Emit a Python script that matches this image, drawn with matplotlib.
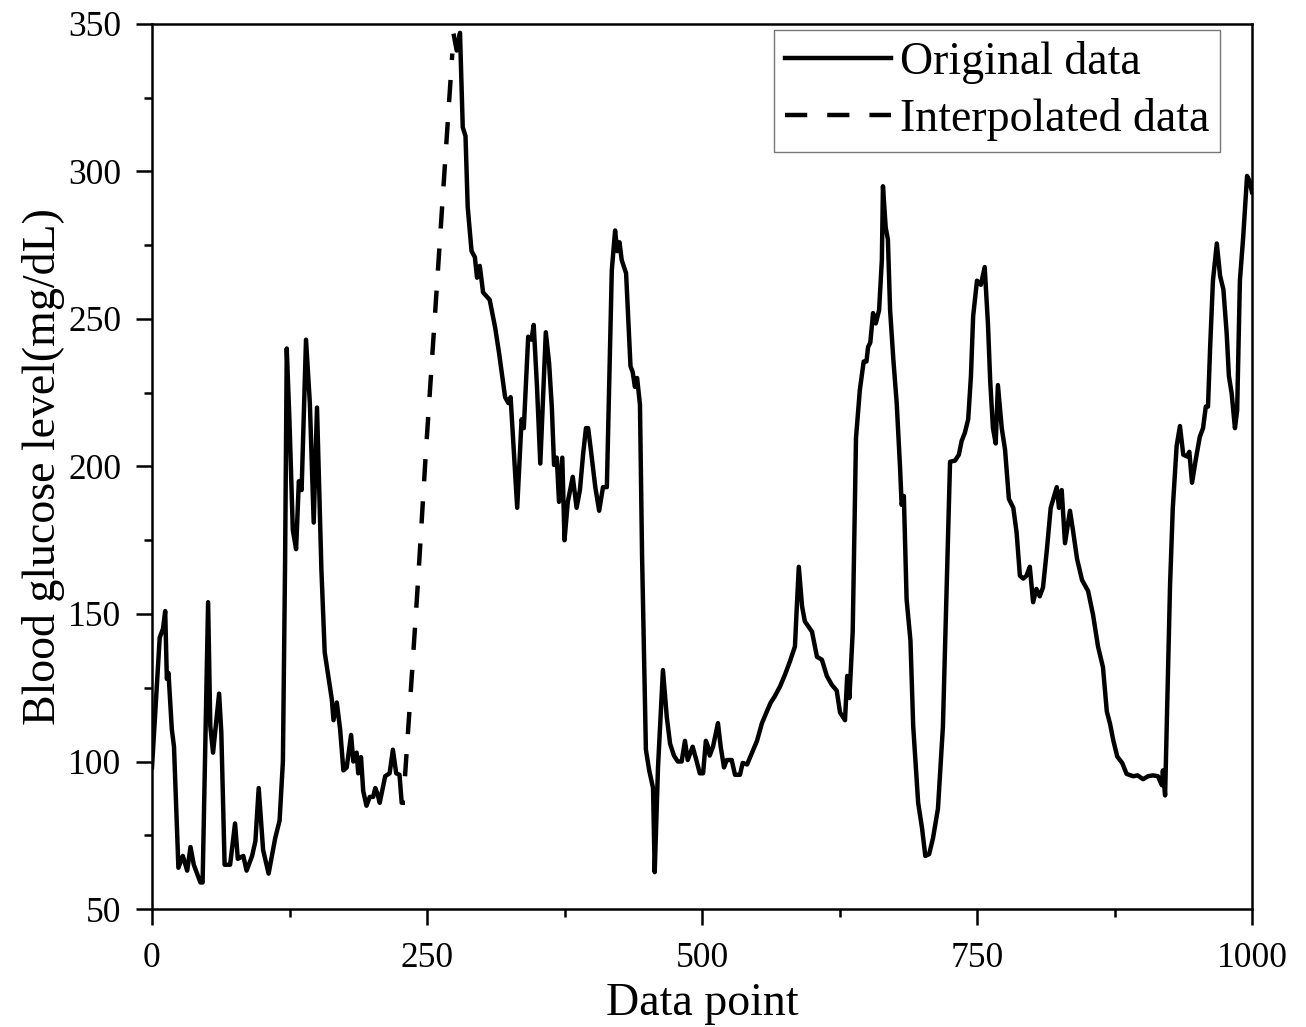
import matplotlib
matplotlib.use('Agg')
import matplotlib.pyplot as plt
from matplotlib.ticker import MultipleLocator

# original data, part before the gap
seg1_x = [0, 7, 10, 12, 13.5, 15, 18, 20, 24, 28, 32, 35, 38, 44, 46, 51, 53, 55.5,
          61, 63, 66, 71, 75.5, 78, 83, 86, 91, 94, 97, 101, 106, 112, 116, 119, 121,
          122.5, 125, 128, 131, 133.5, 136, 140, 143.5, 147, 150, 154, 157, 163.5, 165,
          168, 171, 174, 177, 181, 183, 186, 187.5, 190, 192, 195, 198, 201, 203, 205,
          207, 212, 216, 219, 222, 225, 227, 228]
seg1_y = [98, 142, 145, 151, 128, 130, 111, 105, 64, 68, 63, 71, 65, 59, 59, 154, 112, 103,
          123, 110, 65, 65, 79, 67, 68, 63, 68, 73, 91, 70, 62, 74, 80, 100, 168,
          240, 215, 178.5, 172, 195, 192, 243, 221.5, 181, 220, 165, 137, 121, 114,
          120, 111, 97, 98, 109, 100, 103, 96, 101.5, 90, 85, 88, 88, 91, 89,
          86, 95, 96, 104, 96, 95.5, 86, 86]

# interpolated gap
interp_x = [230, 236, 242, 249, 257, 265, 273]
interp_y = [95, 128, 162, 205, 250, 295, 340]

# original data, part after the gap
seg2_x = [274.5, 277, 280, 282.5, 285, 287, 290.5, 293.5, 295.5, 298, 301, 307, 312, 315.5,
          321, 324, 326, 332, 336, 338, 342, 345, 347, 350, 353, 358, 361, 363.5, 365.5,
          368, 370, 373, 375, 378, 382.5, 386, 389, 392, 394.5, 396.5, 399, 403, 406.5,
          410, 413.5, 418, 421, 423, 425, 427, 431, 435, 437, 439, 441, 443.6, 445.5,
          449, 452, 455.5, 457, 460, 464.5, 468, 471, 474.5, 478, 481.5, 484.5, 487,
          491.5, 494.5, 498, 501, 503.5, 505.5, 507, 510, 514.5, 517, 520, 522.5, 527,
          530, 534.5, 537, 541, 545.5, 550, 554.5, 559, 562.5, 566, 571, 575.5, 580,
          584.5, 586, 588, 591, 593.5, 600, 604.5, 609, 613.5, 618, 622.5, 625.5, 630,
          632, 634, 637, 640, 643.5, 645, 647, 649.5, 651, 653, 655.5, 658, 661, 663.5,
          664.5, 667, 669, 671, 674, 677, 680, 681.5, 683.5, 686, 689.5, 692, 696.5,
          700, 703, 706.5, 710, 714.5, 719, 722.5, 725.5, 730, 733.5, 736, 739, 742,
          744.5, 746.5, 750, 753.5, 757, 760, 762, 764.5, 767, 769, 772.5, 775.5, 779,
          783, 786, 789, 792, 795, 798, 801, 804, 807, 810, 813.5, 817, 822.5, 824.5,
          827, 830, 834.5, 837, 841, 845.5, 851, 855.5, 860, 864.5, 868, 871, 874,
          877.5, 882, 886, 892, 896, 901, 905.5, 910, 914.5, 918, 919, 921, 925.5, 928,
          931.5, 934.5, 937.5, 941, 943, 945.5, 949, 952.5, 955.5, 958, 960, 962,
          964.5, 968, 971, 974, 977, 979, 981.5, 984.5, 986.5, 989, 992, 995.5, 997.5,
          1000]
seg2_y = [346, 341, 347, 315, 312, 288, 273, 271, 264, 268, 259, 256.5, 247, 238.5,
          223.5, 221.5, 223.5, 186, 216, 213, 244, 243, 248, 227, 201, 245.5, 235, 220, 200.5,
          203, 188, 203, 175, 188, 196.5, 186, 192, 204.5, 213, 213, 205.5, 193, 185,
          193, 193, 266.5, 280, 273, 276, 270, 265.5, 234, 232, 227, 230, 221, 170,
          104, 97, 91, 62.5, 98, 131, 115, 106, 102, 100, 100, 107, 100.5,
          105, 101, 96, 96, 107, 105, 102, 105, 113, 105, 98, 100.5, 100.5,
          95.5, 95.5, 99.5, 99, 103, 107, 113, 117, 120, 122, 125.5, 129.5, 134,
          139, 151, 166, 152.5, 147.5, 144, 135.5, 134.5, 129, 126, 124, 116.6, 114,
          129, 121.5, 144, 209.7, 226, 230, 235.6, 235.6, 240.5, 242, 252, 248.5, 253, 270,
          295, 281, 277, 253, 236, 221.5, 200, 187, 190, 155, 141, 112, 86,
          77.5, 68, 68.6, 74, 84, 111.7, 160.5, 201.6, 202, 204, 208.6, 211.5, 216,
          230.7, 251, 263, 261.6, 267.6, 248, 229, 213, 207.8, 227.6, 213, 205.7, 189,
          186, 177.6, 163, 162, 163, 166, 154, 158.5, 156, 159, 171.7, 186, 193, 186,
          192, 174, 185, 179, 168.6, 161.5, 157.8, 149.7, 139, 132, 117, 112.7, 107,
          101.7, 99.5, 95.8, 95, 95.3, 94, 95, 95.3, 95, 92, 97, 88.5, 159.8, 186,
          207, 213.7, 204, 203.4, 205, 194.5, 202.6, 210, 213, 220.3, 220.3, 241,
          263, 275.6, 264.6, 260, 245, 230.7, 224.8, 213, 219, 263, 277.8, 298.5, 297,
          293]

x_ticks = [0, 250, 500, 750, 1000]
y_ticks = [50, 100, 150, 200, 250, 300, 350]

plt.rcParams['font.family'] = ['Liberation Serif', 'DejaVu Serif']

fig = plt.figure(figsize=(13.06, 10.27), dpi=100)
ax = fig.add_axes([152 / 1306, 1 - 909 / 1027, 1100 / 1306, 885 / 1027])

lw = 3.2
ax.plot(seg1_x, seg1_y, color='black', lw=lw, solid_joinstyle='round',
        label='Original data')
ax.plot(interp_x, interp_y, color='black', lw=lw, dashes=(5, 4.5),
        dash_capstyle='butt', label='Interpolated data')
ax.plot(seg2_x, seg2_y, color='black', lw=lw, solid_joinstyle='round')

ax.set_xlim(0, 1000)
ax.set_ylim(50, 350)
ax.set_xticks(x_ticks)
ax.set_yticks(y_ticks)
ax.xaxis.set_minor_locator(MultipleLocator(125))
ax.yaxis.set_minor_locator(MultipleLocator(25))
ax.tick_params(which='major', direction='out', length=11.5, width=1.8,
               labelsize=25.5)
ax.tick_params(which='minor', direction='out', length=6, width=1.8)
ax.tick_params(axis='x', which='major', pad=12)
ax.tick_params(axis='y', which='major', pad=10.5)
for sp in ax.spines.values():
    sp.set_linewidth(1.8)

ax.set_xlabel('Data point', fontsize=33, labelpad=6)
ax.set_ylabel('Blood glucose level(mg/dL)', fontsize=33, labelpad=2)

leg = ax.legend(loc='upper right', bbox_to_anchor=(0.971, 0.993),
                borderaxespad=0, fontsize=33, fancybox=False, frameon=True,
                edgecolor='#555555', handlelength=2.3, handletextpad=0.2,
                borderpad=0.24, labelspacing=0.3)
leg.get_frame().set_linewidth(1.0)

fig.savefig('out.png', dpi=100)
